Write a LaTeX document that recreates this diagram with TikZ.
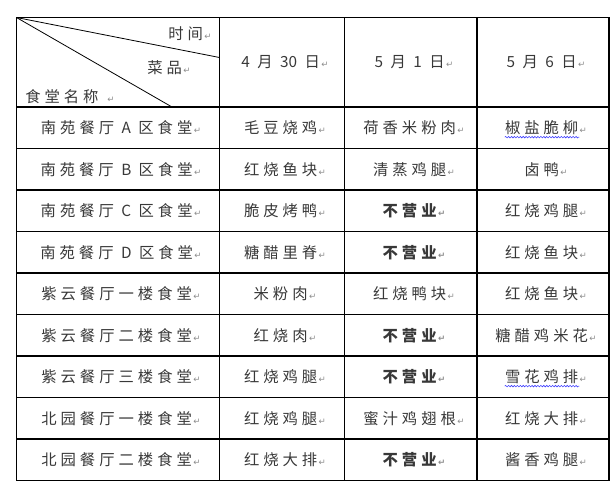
\documentclass[tikz,border=0pt]{standalone}
\usepackage{fontspec}
\newfontfamily\cjk{Noto Sans CJK SC}[LetterSpace=26]
\newfontfamily\symfont{DejaVu Sans}
\usepackage{tikz}
\usetikzlibrary{decorations.pathmorphing}
\newcommand{\retmark}{{\symfont\fontsize{6.5}{6.5}\selectfont\color{black!45}\,↵}}
\newcommand{\tightnum}[1]{{\addfontfeature{LetterSpace=0}#1}}
\tikzset{
	cell/.style={font=\cjk\fontsize{11.5}{13}\selectfont, inner sep=0pt, text=black!78},
	grid/.style={line width=0.8pt},
	spell/.style={draw=blue!75, line width=0.45pt, decorate, decoration={snake, amplitude=0.55pt, segment length=2.2pt}}
}

\begin{document}
\begin{tikzpicture}[x=0.75pt,y=-0.75pt]
		\useasboundingbox (0,0) rectangle (612,487);
		% table lines
		\draw[grid] (16.5,17.5) rectangle (609,480.5);
		\foreach \x in {219.5,344.5,477} \draw[grid] (\x,17.5) -- (\x,480.5);
		\foreach \i in {0,...,8} \draw[grid] (16.5,107+41.5*\i) -- (609,107+41.5*\i);
		% split header cell
		\coordinate (corner) at (16.5,17.5);
		\coordinate (split1) at (219.5,57.5);
		\coordinate (split2) at (172,107);
		\draw[line width=0.6pt] (corner) -- (split1);
		\draw[line width=0.6pt] (corner) -- (split2);
		\node[cell, anchor=east] (time) at (212,34) {时间\retmark};
		\node[cell, anchor=east] (dish) at (191,68) {菜品\retmark};
		\node[cell, anchor=west] (hall) at (25,97) {食堂名称 \retmark};
		% dates
		\node[cell] (date1) at (285,62) {4 月 \tightnum{30} 日\retmark};
		\node[cell] (date2) at (414,62) {5 月 1 日\retmark};
		\node[cell] (date3) at (546,62) {5 月 6 日\retmark};
		% rows
		\foreach \hname/\dA/\dB/\dC [count=\i] in {
			南苑餐厅 A 区食堂/毛豆烧鸡/荷香米粉肉/椒盐脆柳,
			南苑餐厅 B 区食堂/红烧鱼块/清蒸鸡腿/卤鸭,
			南苑餐厅 C 区食堂/脆皮烤鸭/{\bfseries 不营业}/红烧鸡腿,
			南苑餐厅 D 区食堂/糖醋里脊/{\bfseries 不营业}/红烧鱼块,
			紫云餐厅一楼食堂/米粉肉/红烧鸭块/红烧鱼块,
			紫云餐厅二楼食堂/红烧肉/{\bfseries 不营业}/糖醋鸡米花,
			紫云餐厅三楼食堂/红烧鸡腿/{\bfseries 不营业}/雪花鸡排,
			北园餐厅一楼食堂/红烧鸡腿/蜜汁鸡翅根/红烧大排,
			北园餐厅二楼食堂/红烧大排/{\bfseries 不营业}/酱香鸡腿}{
			\node[cell] (hall-\i) at (121,86.25+41.5*\i) {\hname\retmark};
			\node[cell] (dA-\i) at (285,86.25+41.5*\i) {\dA\retmark};
			\node[cell] (dB-\i) at (414,86.25+41.5*\i) {\dB\retmark};
			\node[cell] (dC-\i) at (546,86.25+41.5*\i) {\dC\retmark};
		}
		% spell check marks
		\draw[spell] ([yshift=-1.5pt]dC-1.south west) -- ([xshift=-6pt,yshift=-1.5pt]dC-1.south east);
		\draw[spell] ([yshift=-1.5pt]dC-7.south west) -- ([xshift=-6pt,yshift=-1.5pt]dC-7.south east);
	\end{tikzpicture}
\end{document}
